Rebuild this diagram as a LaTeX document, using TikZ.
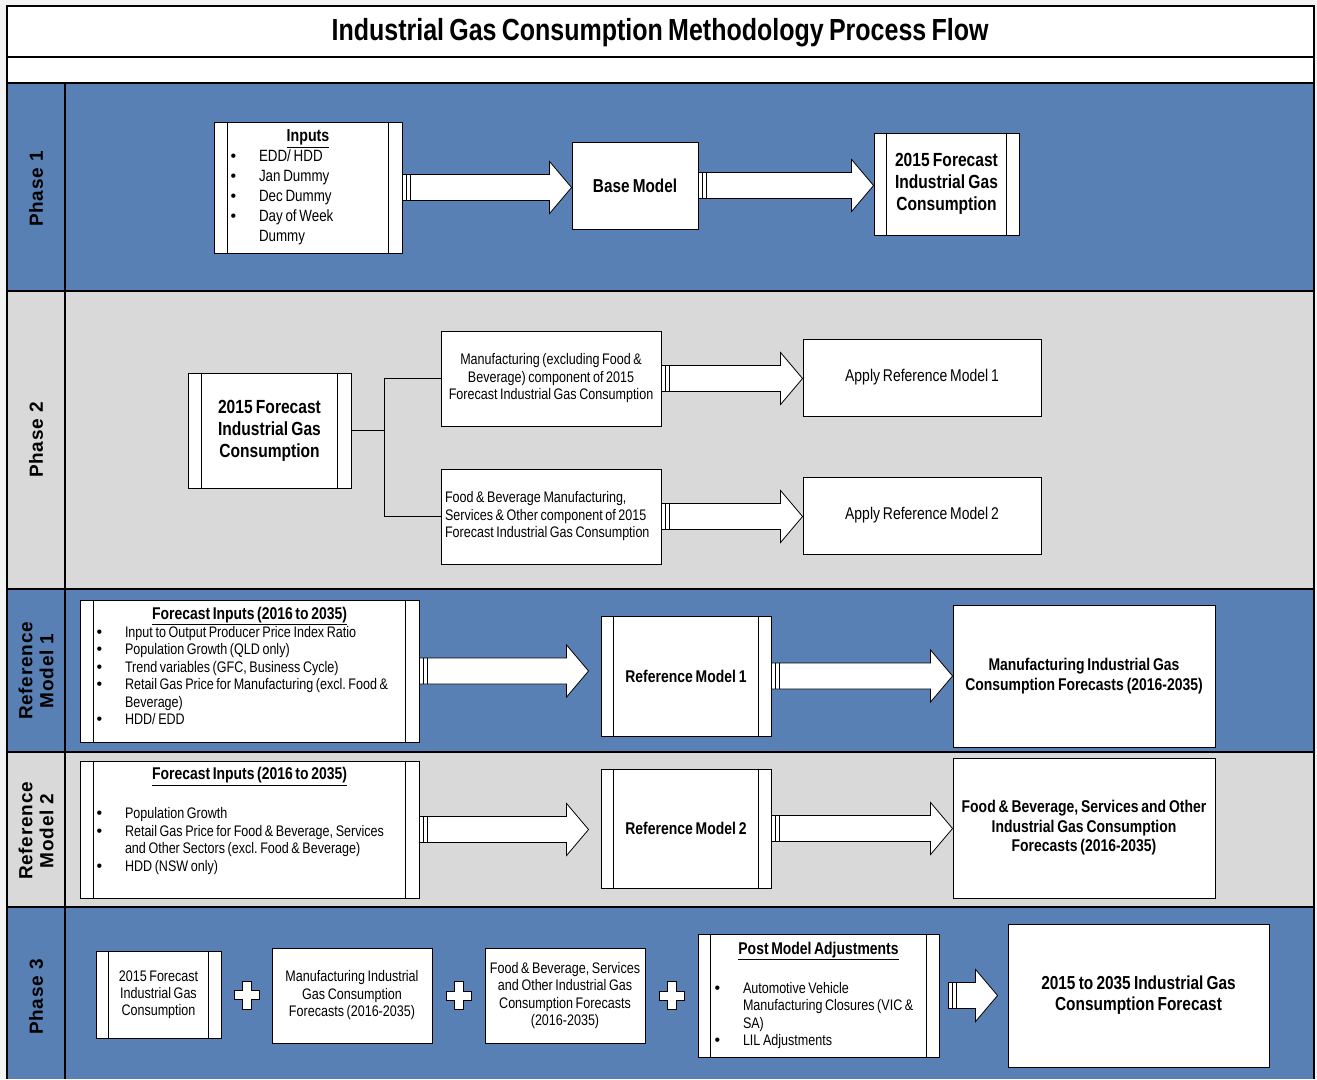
\documentclass[tikz,border=0pt]{standalone}
\usepackage{fontspec}
\setmainfont{Liberation Sans}[FakeStretch=0.82, WordSpace=0.75]
\newfontfamily\lanefont{Liberation Sans}[LetterSpace=4]
\newfontfamily\plainfont{Liberation Sans}
\usetikzlibrary{calc}
\definecolor{laneblue}{RGB}{88,128,181}
\definecolor{lanegray}{RGB}{217,217,217}
\definecolor{margincol}{RGB}{243,243,243}
\newcommand\tsp{\spaceskip=0.171em plus 0.08em\relax\xspaceskip=\spaceskip}
\newcommand\bul{{\plainfont\fontsize{16}{16}\selectfont\textbullet}}
\newcommand\bitem[1]{\par\hangindent=31pt\hangafter=1\noindent\hspace*{2.5pt}\makebox[28.5pt][l]{\bul}#1\par}
\newcommand\botpad[1]{\par\nointerlineskip\vspace*{#1}\hbox{}}
\newcommand\proclines[2]{\draw[boxline] ([xshift=#2pt]#1.north west) -- ([xshift=#2pt]#1.south west) ([xshift=-#2pt]#1.north east) -- ([xshift=-#2pt]#1.south east);}
\newcommand\fatarrow[2]{\draw[fat] let \p1=(#1), \p2=(#2) in
  (\x1,\y1-13pt) rectangle (\x1+4pt,\y1+13pt)
  (\x1+4pt,\y1-13pt) rectangle (\x1+8pt,\y1+13pt)
  (\x1+8pt,\y1-13pt) -- (\x2-22pt,\y1-13pt) -- (\x2-22pt,\y1-26pt) -- (\x2,\y1) -- (\x2-22pt,\y1+26pt) -- (\x2-22pt,\y1+13pt) -- (\x1+8pt,\y1+13pt) -- cycle;}
\newcommand\plusat[1]{\draw[fat, shift={(#1)}] (-4.5,-14) -- (4.5,-14) -- (4.5,-4.5) -- (12.5,-4.5) -- (12.5,4.5) -- (4.5,4.5) -- (4.5,14) -- (-4.5,14) -- (-4.5,4.5) -- (-12.5,4.5) -- (-12.5,-4.5) -- (-4.5,-4.5) -- cycle;}
\begin{document}
\begin{tikzpicture}[x=1pt,y=-1pt,
  boxline/.style={line width=0.9pt, draw=black},
  box/.style={draw=black, line width=0.9pt, fill=white, inner sep=0pt, align=center},
  fat/.style={draw=black, line width=0.8pt, fill=white, line join=miter},
  conn/.style={draw=black, line width=0.9pt},
  frameline/.style={draw=black, line width=1.3pt},
  lane/.style={font=\lanefont\bfseries\fontsize{19}{21}\selectfont, rotate=90, align=center},
  norm/.style={font=\fontsize{15.3}{17.5}\selectfont},
  bold/.style={font=\bfseries\fontsize{19}{22}\selectfont}
]
\fill[margincol] (0,0) rectangle (1317,1079);
\useasboundingbox (0,0) rectangle (1317,1079);
\fill[white] (7,6) rectangle (1314,83);
\fill[laneblue] (7,83) rectangle (1314,291);
\fill[lanegray] (7,291) rectangle (1314,589);
\fill[laneblue] (7,589) rectangle (1314,752);
\fill[lanegray] (7,752) rectangle (1314,907);
\fill[laneblue] (7,907) rectangle (1314,1079);
\draw[frameline] (7,1079) -- (7,6) -- (1314,6) -- (1314,1079);
\foreach \yy in {57,83,291,589,752,907} \draw[frameline] (7,\yy) -- (1314,\yy);
\draw[frameline] (65,83) -- (65,1079);

\node[font=\bfseries\fontsize{30.5}{34}\selectfont] (title) at (660,33) {Industrial Gas Consumption Methodology Process Flow};

\node[lane] (lp1) at (36,189) {Phase 1};
\node[lane] (lp2) at (36,440) {Phase 2};
\node[lane] (lr1) at (36,671) {Reference\\Model 1};
\node[lane] (lr2) at (36,831) {Reference\\Model 2};
\node[lane] (lp3) at (36,997) {Phase 3};

% Phase 1
\node[box, minimum width=188pt, minimum height=131pt, text width=160pt, align=left, font=\fontsize{16.3}{20}\selectfont] (inputs) at (308,187.5)
 {\tsp{\centering\bfseries\fontsize{17.3}{20}\selectfont\underline{Inputs}\par}\bitem{EDD/ HDD}\bitem{Jan Dummy}\bitem{Dec Dummy}\bitem{Day of Week\newline Dummy}};
\proclines{inputs}{14}
\node[box, font=\bfseries\fontsize{18.7}{22}\selectfont, minimum width=126pt, minimum height=87pt] (base) at (635,185.5) {Base Model};
\node[box, bold, minimum width=145pt, minimum height=102pt] (f2015a) at (946.5,184) {2015 Forecast\\Industrial Gas\\Consumption};
\proclines{f2015a}{13}
\fatarrow{inputs.east}{inputs.east -| base.west}
\fatarrow{base.east}{base.east -| f2015a.west}

% Phase 2
\node[box, bold, minimum width=163pt, minimum height=115pt] (f2015b) at (269.5,430.5) {2015 Forecast\\Industrial Gas\\Consumption};
\proclines{f2015b}{14}
\node[box, norm, minimum width=220pt, minimum height=95pt] (mfg) at (551,378.5) {Manufacturing (excluding Food \&\\Beverage) component of 2015\\Forecast Industrial Gas Consumption};
\node[box, norm, minimum width=220pt, minimum height=95pt, text width=212pt, align=left] (fb) at (551,516.5) {\tsp Food \& Beverage Manufacturing,\\Services \& Other component of 2015\\Forecast Industrial Gas Consumption};
\node[box, font=\fontsize{17}{19}\selectfont, minimum width=238pt, minimum height=77pt] (ref1apply) at (922,377.5) {Apply Reference Model 1};
\node[box, font=\fontsize{17}{19}\selectfont, minimum width=238pt, minimum height=77pt] (ref2apply) at (922,515.5) {Apply Reference Model 2};
\coordinate (split) at ($(f2015b.east)+(33,0)$);
\draw[conn] (f2015b.east) -- (split);
\draw[conn] (mfg.west) -| (split |- fb.west) -- (fb.west);
\fatarrow{mfg.east}{mfg.east -| ref1apply.west}
\fatarrow{fb.east}{fb.east -| ref2apply.west}

% Reference Model 1
\node[box, norm, minimum width=339pt, minimum height=142pt, text width=311pt, align=left] (rm1in) at (249.5,671)
 {\tsp{\centering\bfseries\fontsize{17}{19}\selectfont\underline{Forecast Inputs (2016 to 2035)}\par}\bitem{Input to Output Producer Price Index Ratio}\bitem{Population Growth (QLD only)}\bitem{Trend variables (GFC, Business Cycle)}\bitem{Retail Gas Price for Manufacturing (excl. Food \&\newline Beverage)}\bitem{HDD/ EDD}\botpad{10pt}};
\proclines{rm1in}{14}
\node[box, font=\bfseries\fontsize{17}{20}\selectfont, minimum width=170pt, minimum height=120pt] (rm1) at (686,676) {Reference Model 1};
\proclines{rm1}{13}
\node[box, font=\bfseries\fontsize{17}{20}\selectfont, minimum width=262pt, minimum height=142pt] (rm1out) at (1084,676) {Manufacturing Industrial Gas\\Consumption Forecasts (2016-2035)};
\fatarrow{rm1in.east}{$(rm1in.east -| rm1.west)+(-12,0)$}
\fatarrow{rm1.east}{rm1.east -| rm1out.west}

% Reference Model 2
\node[box, norm, minimum width=339pt, minimum height=137pt, text width=311pt, align=left] (rm2in) at (249.5,829.5)
 {\tsp{\centering\bfseries\fontsize{17}{19}\selectfont\underline{Forecast Inputs (2016 to 2035)}\par}\vspace{21.5pt}\bitem{Population Growth}\bitem{Retail Gas Price for Food \& Beverage, Services\newline and Other Sectors (excl. Food \& Beverage)}\bitem{HDD (NSW only)}\botpad{17pt}};
\proclines{rm2in}{14}
\node[box, font=\bfseries\fontsize{17}{20}\selectfont, minimum width=170pt, minimum height=119pt] (rm2) at (686,828.5) {Reference Model 2};
\proclines{rm2}{13}
\node[box, font=\bfseries\fontsize{17}{19.5}\selectfont, minimum width=262pt, minimum height=140pt] (rm2out) at (1084,828) {Food \& Beverage, Services and Other\\Industrial Gas Consumption\\Forecasts (2016-2035)};
\fatarrow{rm2in.east}{$(rm2in.east -| rm2.west)+(-12,0)$}
\fatarrow{rm2.east}{rm2.east -| rm2out.west}

% Phase 3
\node[box, font=\fontsize{15.3}{17}\selectfont, minimum width=125pt, minimum height=87pt] (p3a) at (158.5,994.5) {2015 Forecast\\Industrial Gas\\Consumption};
\proclines{p3a}{13}
\node[box, norm, minimum width=160pt, minimum height=95pt] (p3b) at (352,995.5) {Manufacturing Industrial\\Gas Consumption\\Forecasts (2016-2035)};
\node[box, norm, minimum width=160pt, minimum height=95pt] (p3c) at (565,995.5) {Food \& Beverage, Services\\and Other Industrial Gas\\Consumption Forecasts\\(2016-2035)};
\node[box, norm, minimum width=241pt, minimum height=123pt, text width=213pt, align=left] (pma) at (818.5,995.5)
 {\tsp{\centering\bfseries\fontsize{17}{19}\selectfont\underline{Post Model Adjustments}\par}\vspace{21.5pt}\bitem{Automotive Vehicle\newline Manufacturing Closures (VIC \&\newline SA)}\bitem{LIL Adjustments}};
\proclines{pma}{13}
\node[box, font=\bfseries\fontsize{18.8}{21}\selectfont, minimum width=261pt, minimum height=143pt] (final) at (1138.5,995.5) {2015 to 2035 Industrial Gas\\Consumption Forecast};
\coordinate (pl1) at ($(p3a.east)!0.5!(p3b.west)$);
\coordinate (pl2) at ($(p3b.east)!0.5!(p3c.west)$);
\coordinate (pl3) at ($(p3c.east)!0.5!(pma.west)$);
\plusat{pl1}
\plusat{pl2}
\plusat{pl3}
\fatarrow{$(pma.east)+(9,0)$}{$(pma.east -| final.west)+(-10,0)$}
\end{tikzpicture}
\end{document}
